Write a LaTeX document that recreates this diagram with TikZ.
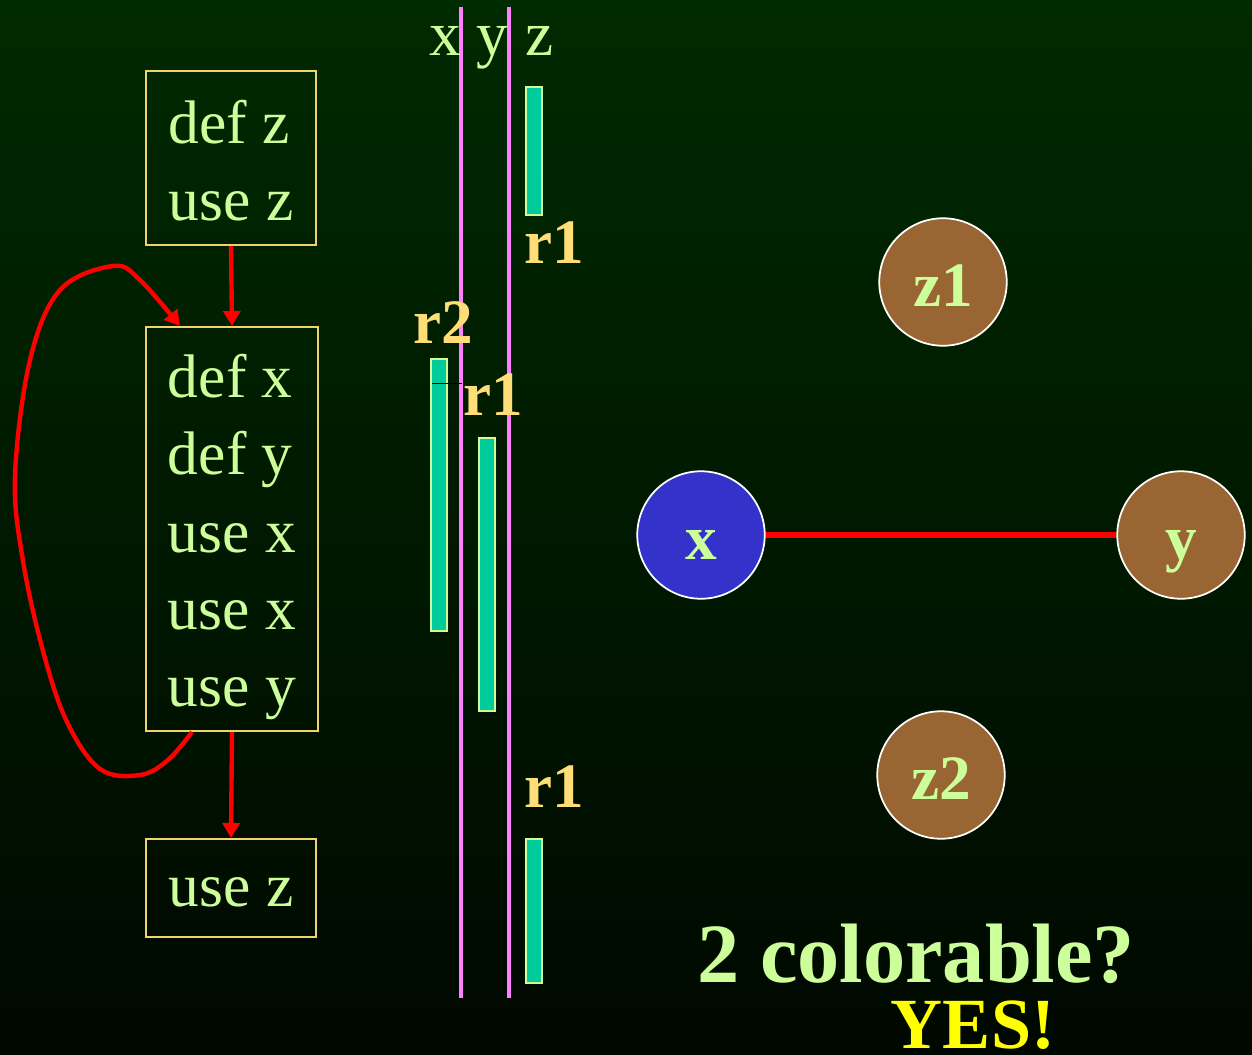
\documentclass[tikz,border=0pt]{standalone}
\usepackage{fontspec}
\setmainfont{Liberation Serif}
\usetikzlibrary{arrows.meta, positioning, calc}
\definecolor{bgtop}{RGB}{0, 42, 0}
\definecolor{bgbottom}{RGB}{0, 8, 0}
\definecolor{paleleaf}{RGB}{204, 255, 153}
\definecolor{boxgold}{RGB}{240, 210, 110}
\definecolor{barteal}{RGB}{0, 204, 153}
\definecolor{lanepink}{RGB}{255, 128, 255}
\definecolor{labelgold}{RGB}{255, 221, 119}
\definecolor{nodebrown}{RGB}{153, 102, 51}
\definecolor{nodeblue}{RGB}{51, 51, 204}
\definecolor{flowred}{RGB}{255, 0, 0}
\definecolor{yesyellow}{RGB}{255, 255, 0}

\begin{document}
\begin{tikzpicture}[x=0.02cm, y=-0.02cm,
  cfgbox/.style={draw=boxgold, line width=1.2pt, text=paleleaf, align=left,
                 inner sep=0pt, minimum width=3.4cm, font=\fontsize{35}{44}\selectfont},
  flow/.style={flowred, line width=2.5pt, -{Triangle[length=0.3cm, width=0.34cm]}},
  livebar/.style={fill=barteal, draw=paleleaf, line width=1.2pt},
  varname/.style={paleleaf, font=\fontsize{36}{36}\selectfont, anchor=base},
  regname/.style={labelgold, font=\fontsize{36}{36}\selectfont\bfseries, anchor=base},
  ignode/.style={circle, draw=white, line width=1pt, minimum size=2.55cm,
                 inner sep=0pt, text height=28pt, text depth=0pt, text=paleleaf,
                 font=\fontsize{36}{36}\selectfont\bfseries}]
  % background
  \shade[top color=bgtop, bottom color=bgbottom] (0,0) rectangle (1252,1055);
  \useasboundingbox (0,0) rectangle (1252,1055);

  % control flow blocks
  \node[cfgbox, minimum height=3.48cm] (blkA) at (231,158) {\rule{0pt}{27.5pt}def z\\use z};
  \node[cfgbox, minimum width=3.44cm, minimum height=8.08cm] (blkB) at (232,529)
    {\rule{0pt}{34pt}def x\\def y\\use x\\use x\\use y};
  \node[cfgbox, minimum height=1.96cm] (blkC) at (231,888) {\rule{0pt}{21pt}use z};

  \draw[flow] (blkA.south) -- (blkB.north);
  \draw[flow] (blkB.south) -- (blkC.north);

  % back edge of the loop
  \coordinate (loopA) at ($(blkB.south west)!0.27!(blkB.south east)$);
  \coordinate (loopB) at ($(blkB.north west)!0.2!(blkB.north east)$);
  \draw[flow] plot[smooth, tension=0.6] coordinates
    {(loopA) (168,760) (140,775) (100,769) (67,722) (43,651) (23,561) (15,476)
     (30,360) (60,290) (113,266) (140,280) (loopB)};

  % variable lanes
  \draw[lanepink, line width=2pt] (461,7) -- (461,998);
  \draw[lanepink, line width=2pt] (509,7) -- (509,998);
  \node[varname] (vx) at (445,55) {x};
  \node[varname] (vy) at (492,55) {y};
  \node[varname] (vz) at (540,55) {z};

  % live ranges
  \draw[livebar] (526,87) rectangle (542,215);
  \draw[livebar] (431,359) rectangle (447,631);
  \draw[livebar] (479,438) rectangle (495,711);
  \draw[livebar] (526,839) rectangle (542,983);
  \draw[black, very thin] (432,383) -- (462,383);

  \node[regname] (rz1) at (554,263) {r1};
  \node[regname] (rx2) at (443,343) {r2};
  \node[regname] (ry1) at (493,415) {r1};
  \node[regname] (rz2) at (554,807) {r1};

  % interference graph
  \node[ignode, fill=nodebrown] (gz1) at (943,282) {z1};
  \node[ignode, fill=nodeblue] (gx) at (701,535) {x};
  \node[ignode, fill=nodebrown] (gy) at (1181,535) {y};
  \node[ignode, fill=nodebrown] (gz2) at (941,775) {z2};
  \draw[flowred, line width=3.2pt] (gx) -- (gy);

  % question
  \node[paleleaf, inner sep=0pt, font=\fontsize{48}{48}\selectfont\bfseries, anchor=base] (ask) at (916,982) {2 colorable?};
  \node[yesyellow, inner sep=0pt, font=\fontsize{41}{41}\selectfont\bfseries, anchor=base] (reply) at (973,1048) {YES!};
\end{tikzpicture}
\end{document}
